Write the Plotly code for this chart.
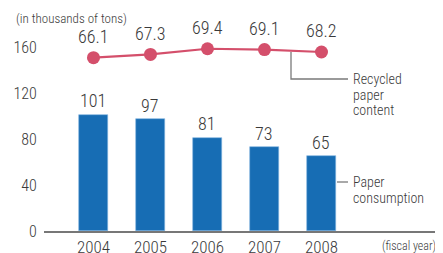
import plotly.graph_objects as go

years = [2004, 2005, 2006, 2007, 2008]
paper_consumption = [101, 97, 81, 73, 65]
recycled_content = [66.1, 67.3, 69.4, 69.1, 68.2]
y_ticks = [0, 40, 80, 120, 160]

FONT = "Roboto Condensed, DejaVu Sans Condensed, sans-serif"
W8 = 300
TXT = "#3a3a3a"
BAR = "#176db4"
RED = "#d44f6b"
GRAY = "#7a7a7a"

# the page body has an 8px margin, so the figure starts at (8, 8) of the window
OFF = 8
FW, FH = 443 - OFF, 253 - OFF
PL, PT, PB = 44, 30, 231          # plot area edges in window pixels
L, R, T, B = PL - OFF, 0, PT - OFF, FH - (PB - OFF)
PW, PH = 443 - PL, PB - PT


def pxx(px):
    return (px - PL) / PW


def pxy(py):
    return (PB - py) / PH


def fnt(size):
    return dict(size=size, color=TXT, family=FONT, weight=W8)


fig = go.Figure()
fig.add_trace(go.Bar(x=years, y=paper_consumption, width=0.51,
                     marker=dict(color=BAR, line=dict(color="#7fb2e0", width=0.6)),
                     hoverinfo="skip", showlegend=False))
fig.add_trace(go.Scatter(x=years, y=recycled_content, yaxis="y2", mode="lines+markers",
                         line=dict(color=RED, width=2.2),
                         marker=dict(color=RED, size=13),
                         hoverinfo="skip", showlegend=False))

ann = []
for x, v in zip(years, paper_consumption):
    ann.append(dict(x=x, y=v, xref="x", yref="y", text=str(v), showarrow=False,
                    yanchor="middle", yshift=14, font=fnt(18)))
for x, v in zip(years, recycled_content):
    ann.append(dict(x=x, y=v, xref="x", yref="y2", text=f"{v:.1f}", showarrow=False,
                    yanchor="middle", yshift=21, font=fnt(18)))

for i, t in enumerate(["Recycled", "paper", "content"]):
    ann.append(dict(x=pxx(351), y=pxy(79 + 15.5 * i), xref="paper", yref="paper", text=t,
                    showarrow=False, xanchor="left", yanchor="middle", font=fnt(14)))
for i, t in enumerate(["Paper", "consumption"]):
    ann.append(dict(x=pxx(351), y=pxy(182 + 16 * i), xref="paper", yref="paper", text=t,
                    showarrow=False, xanchor="left", yanchor="middle", font=fnt(14)))
ann.append(dict(x=pxx(14), y=pxy(18), xref="paper", yref="paper", text="(in thousands of tons)",
                showarrow=False, xanchor="left", yanchor="middle", font=fnt(13)))
ann.append(dict(x=pxx(380), y=pxy(246), xref="paper", yref="paper", text="(fiscal year)",
                showarrow=False, xanchor="left", yanchor="middle", font=fnt(12)))

shapes = [
    dict(type="path", xref="paper", yref="paper",
         path=f"M {pxx(291)},{pxy(52)} L {pxx(291)},{pxy(79)} L {pxx(348)},{pxy(79)}",
         line=dict(color=GRAY, width=1.3)),
    dict(type="line", xref="paper", yref="paper", x0=pxx(337), x1=pxx(348), y0=pxy(182), y1=pxy(182),
         line=dict(color=GRAY, width=1.3)),
]

fig.update_layout(
    width=FW, height=FH,
    margin=dict(l=L, r=R, t=T, b=B, pad=0, autoexpand=False),
    paper_bgcolor="white", plot_bgcolor="white",
    xaxis=dict(range=[2003.132, 2010.132], tickvals=years, ticktext=[str(y) for y in years],
               showgrid=False, zeroline=False, showline=True, linecolor="#777777", linewidth=1.5,
               ticks="", automargin=False,
               tickfont=fnt(17)),
    yaxis=dict(range=[0, 174.78], tickvals=y_ticks, showgrid=False, zeroline=False, showline=False,
               ticks="outside", ticklen=3, tickcolor="rgba(0,0,0,0)", automargin=False,
               tickfont=fnt(16)),
    yaxis2=dict(range=[1.9, 76.34], overlaying="y", side="right", visible=False),
    annotations=ann, shapes=shapes,
    bargap=0,
)

fig.write_html("out.html")
